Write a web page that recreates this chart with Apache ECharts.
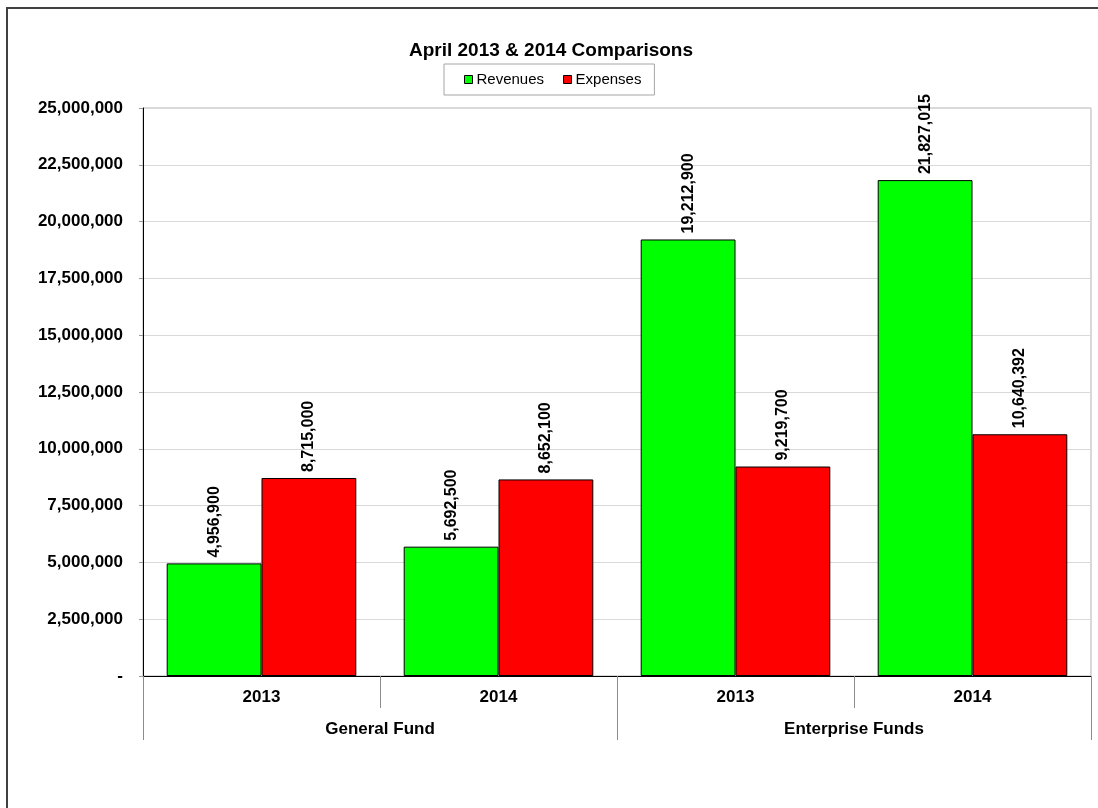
<!DOCTYPE html>
<html>
<head>
<meta charset="utf-8">
<script src="https://cdn.jsdelivr.net/npm/echarts@6/dist/echarts.min.js"></script>
<style>
html,body{margin:0;padding:0;background:#fff;}
#chart{width:1098px;height:808px;}
</style>
</head>
<body>
<div id="chart"></div>
<script>
var titleText = 'April 2013 & 2014 Comparisons';
var yearLabels = ['2013', '2014', '2013', '2014'];
var fundLabels = ['General Fund', 'Enterprise Funds'];
var seriesNames = ['Revenues', 'Expenses'];
var revenues = [4956900, 5692500, 19212900, 21827015];
var expenses = [8715000, 8652100, 9219700, 10640392];
var yMin = 0, yMax = 25000000, yStep = 2500000;

var FONT = '"Liberation Sans", Arial, sans-serif';
function fmt(v) { return v === 0 ? '-' : Number(v).toLocaleString('en-US'); }

var chart = echarts.init(document.getElementById('chart'), null, {renderer: 'canvas'});
var labelCfg = {
  show: true, position: 'top', rotate: 90, align: 'left', verticalAlign: 'middle',
  distance: 6, fontFamily: FONT, fontWeight: 'bold', fontSize: 16, color: '#000',
  formatter: function (p) { return fmt(p.value); }
};
chart.setOption({
  animation: false,
  backgroundColor: '#fff',
  textStyle: {fontFamily: FONT},
  title: {
    text: titleText, left: 546, top: 36, textAlign: 'center',
    textStyle: {fontFamily: FONT, fontWeight: 'bold', fontSize: 19, color: '#000'}
  },
  legend: {
    data: seriesNames, left: 444, top: 64, orient: 'horizontal',
    padding: [8, 13, 8, 20], itemGap: 19, itemWidth: 8, itemHeight: 8,
    borderColor: '#a6a6a6', borderWidth: 1,
    icon: 'rect',
    itemStyle: {borderColor: '#000', borderWidth: 1},
    textStyle: {fontFamily: FONT, fontSize: 15, color: '#000', padding: [0, 0, 0, -1]}
  },
  graphic: [{
    type: 'rect', silent: true, z: 100,
    shape: {x: 7, y: 8, width: 1200, height: 1000},
    style: {fill: 'none', stroke: '#404040', lineWidth: 2}
  }],
  grid: {
    left: 143, right: 7, top: 108, bottom: 132, containLabel: false,
    show: true, borderColor: '#b3b3b3', borderWidth: 1, backgroundColor: 'transparent'
  },
  xAxis: [{
    type: 'category', data: yearLabels, position: 'bottom',
    axisLine: {show: true, lineStyle: {color: '#000', width: 1}},
    axisTick: {show: true, length: 32, alignWithLabel: false, lineStyle: {color: '#8c8c8c'}},
    axisLabel: {fontFamily: FONT, fontWeight: 'bold', fontSize: 17, color: '#000', margin: 13},
    splitLine: {show: false}
  }, {
    type: 'category', data: fundLabels, position: 'bottom',
    axisLine: {show: false},
    axisTick: {show: true, length: 64, lineStyle: {color: '#8c8c8c'}},
    axisLabel: {fontFamily: FONT, fontWeight: 'bold', fontSize: 17, color: '#000', margin: 45},
    splitLine: {show: false}
  }],
  yAxis: {
    type: 'value', min: yMin, max: yMax, interval: yStep,
    axisLine: {show: true, lineStyle: {color: '#000', width: 1}},
    axisTick: {show: true, length: 4, lineStyle: {color: '#999'}},
    axisLabel: {fontFamily: FONT, fontWeight: 'bold', fontSize: 17, color: '#000', margin: 20,
      formatter: fmt},
    splitLine: {show: true, lineStyle: {color: '#d9d9d9', width: 1}}
  },
  series: [{
    name: seriesNames[0], type: 'bar', xAxisIndex: 0, data: revenues,
    barGap: '0%', barCategoryGap: '20%',
    itemStyle: {color: '#00ff00', borderColor: '#000', borderWidth: 1},
    label: labelCfg
  }, {
    name: seriesNames[1], type: 'bar', xAxisIndex: 0, data: expenses,
    barGap: '0%', barCategoryGap: '20%',
    itemStyle: {color: '#ff0000', borderColor: '#000', borderWidth: 1},
    label: labelCfg
  }]
});
</script>
</body>
</html>
